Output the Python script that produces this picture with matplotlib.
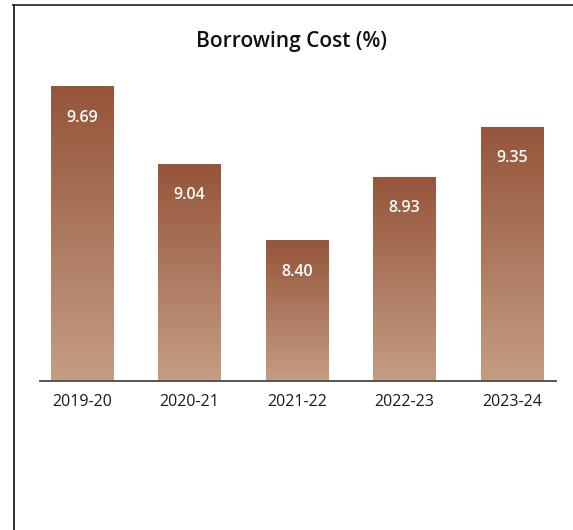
import numpy as np
import matplotlib
matplotlib.use("Agg")
import matplotlib.pyplot as plt
from matplotlib.colors import LinearSegmentedColormap
from matplotlib.lines import Line2D

years = ["2019-20", "2020-21", "2021-22", "2022-23", "2023-24"]
cost = [9.69, 9.04, 8.40, 8.93, 9.35]
value_labels = ["9.69", "9.04", "8.40", "8.93", "9.35"]

W, H = 573, 530
fig = plt.figure(figsize=(W / 100, H / 100), dpi=100)
fig.patch.set_facecolor("white")

ax = fig.add_axes([40 / W, 1 - 381 / H, (556 - 40) / W, (381 - 60) / H])
ymin, ymax = 7.22, 9.908
ax.set_ylim(ymin, ymax)
ax.set_xlim(-0.39, 4.41)

cmap = LinearSegmentedColormap.from_list("brown", ["#c49d83", "#95553a"])
grad = np.linspace(0, 1, 256).reshape(-1, 1)
bar_w = 0.58
x = np.arange(len(years))
bars = ax.bar(x, [c - ymin for c in cost], bottom=ymin, width=bar_w,
              color="none", edgecolor="none")
for bar, xi, c, lab in zip(bars, x, cost, value_labels):
    im = ax.imshow(grad, cmap=cmap, aspect="auto", origin="lower",
                   extent=[xi - bar_w / 2, xi + bar_w / 2, ymin, c], zorder=2)
    im.set_clip_path(bar)
    ax.text(xi, c - 0.265, lab, ha="center", va="center", color="white",
            fontsize=11.5, fontweight="semibold", family="Open Sans", zorder=3)

ax.set_xlim(-0.39, 4.41)
ax.set_ylim(ymin, ymax)
ax.set_xticks(x)
ax.set_xticklabels(years, family="Open Sans", fontweight="normal",
                   fontsize=11.5, color="#1a1a1a")
ax.tick_params(axis="x", length=0, pad=9)
ax.set_yticks([])
for side in ["top", "right", "left"]:
    ax.spines[side].set_visible(False)
ax.spines["bottom"].set_color("#555555")
ax.spines["bottom"].set_linewidth(1.4)

fig.text(292 / W, 1 - 41 / H, "Borrowing Cost (%)", ha="center", va="center",
         fontsize=15, fontweight="semibold", family="Open Sans", color="#111111")

# outer frame: top and left edges
fig.add_artist(Line2D([13 / W, 1], [1 - 4.5 / H, 1 - 4.5 / H],
                      transform=fig.transFigure, color="#333333", lw=1.3))
fig.add_artist(Line2D([13.5 / W, 13.5 / W], [0, 1 - 4.5 / H],
                      transform=fig.transFigure, color="#222222", lw=1.3))

fig.savefig("out.png", dpi=100, facecolor="white")
